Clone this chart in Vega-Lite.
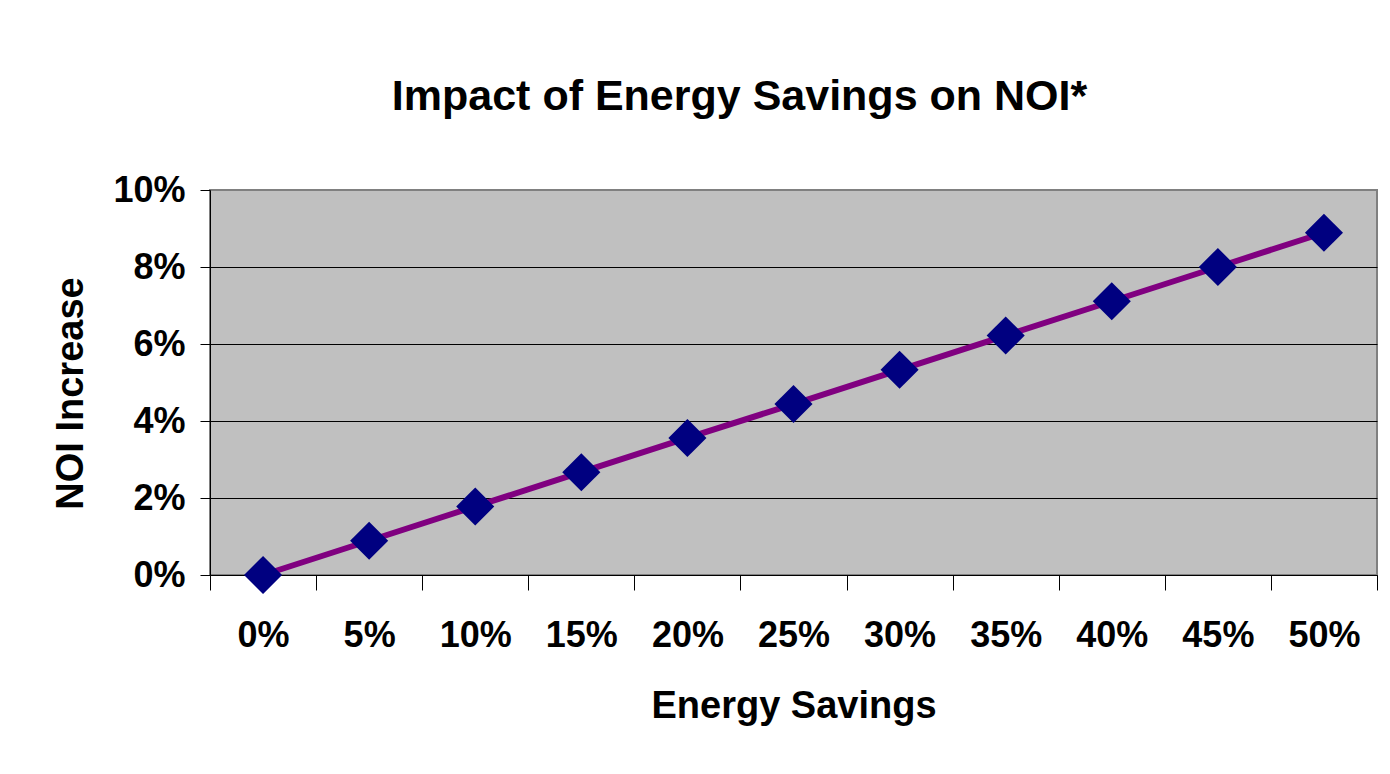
{
  "$schema": "https://vega.github.io/schema/vega-lite/v6.json",
  "autosize": {"type": "none"},
  "width": 1167,
  "height": 385,
  "padding": {"left": 210, "top": 190, "right": 13, "bottom": 199},
  "background": "white",
  "title": {
    "text": "Impact of Energy Savings on NOI*",
    "font": "Liberation Sans",
    "fontSize": 43,
    "fontWeight": "bold",
    "color": "black",
    "anchor": "middle",
    "dx": -54,
    "offset": 53
  },
  "data": {
    "values": [
      {"savings": "0%", "noi": 0.0},
      {"savings": "5%", "noi": 0.0089},
      {"savings": "10%", "noi": 0.0178},
      {"savings": "15%", "noi": 0.0267},
      {"savings": "20%", "noi": 0.0356},
      {"savings": "25%", "noi": 0.0444},
      {"savings": "30%", "noi": 0.0533},
      {"savings": "35%", "noi": 0.0622},
      {"savings": "40%", "noi": 0.0711},
      {"savings": "45%", "noi": 0.08},
      {"savings": "50%", "noi": 0.0889}
    ]
  },
  "encoding": {
    "x": {
      "field": "savings",
      "type": "ordinal",
      "sort": null,
      "scale": {"type": "band", "paddingInner": 0, "paddingOuter": 0},
      "axis": {
        "title": "Energy Savings",
        "labelAngle": 0,
        "tickBand": "extent",
        "tickSize": 15,
        "tickColor": "black",
        "domainColor": "black",
        "labelPadding": 28,
        "titlePadding": 34
      }
    },
    "y": {
      "field": "noi",
      "type": "quantitative",
      "scale": {"domain": [0, 0.1], "nice": false},
      "axis": {
        "title": "NOI Increase",
        "format": ".0%",
        "values": [0, 0.02, 0.04, 0.06, 0.08, 0.1],
        "tickSize": 10,
        "tickColor": "black",
        "domainColor": "black",
        "grid": true,
        "gridColor": {"condition": {"test": "datum.value >= 0.1", "value": "#808080"}, "value": "black"},
        "gridWidth": 1,
        "labelPadding": 15,
        "titlePadding": 22,
        "titleY": 203
      }
    }
  },
  "layer": [
    {"mark": {"type": "line", "color": "#800080", "strokeWidth": 6}},
    {"mark": {"type": "point", "shape": "diamond", "filled": true, "color": "#000080", "opacity": 1, "size": 1450}}
  ],
  "config": {
    "view": {"fill": "#C0C0C0", "stroke": "#808080", "strokeWidth": 2},
    "axis": {
      "labelFont": "Liberation Sans",
      "labelFontSize": 36,
      "labelFontWeight": "bold",
      "labelColor": "black",
      "titleFont": "Liberation Sans",
      "titleFontSize": 38,
      "titleFontWeight": "bold",
      "titleColor": "black",
      "domainWidth": 1,
      "tickWidth": 1
    }
  }
}
